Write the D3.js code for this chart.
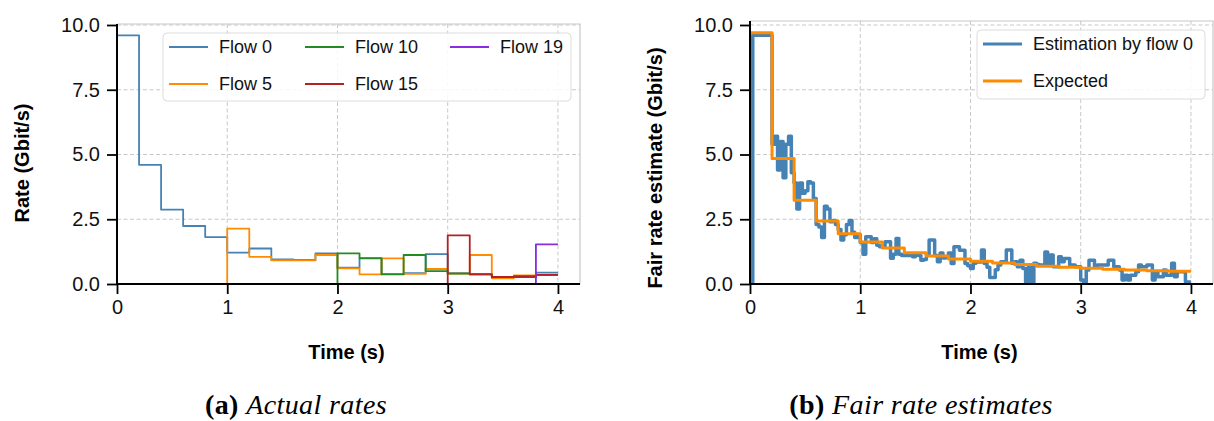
<!DOCTYPE html>
<html><head><meta charset="utf-8">
<script src="https://cdn.jsdelivr.net/npm/d3@7"></script>
<style>body{margin:0;background:#fff}svg{display:block}</style>
</head><body>
<svg id="c" width="1214" height="421"></svg>
<script>
// ---------- data ----------
const intervalSec = 0.2;          // flows join every 0.2 s
const estimateStepSec = 0.025;    // estimation sample step
const xTicks = [0, 1, 2, 3, 4];
const yTicks = [0, 2.5, 5, 7.5, 10];
const yTickLabels = ["0.0", "2.5", "5.0", "7.5", "10.0"];

const flowNames = ["Flow 0", "Flow 5", "Flow 10", "Flow 15", "Flow 19"];
const flowColors = ["#4682b4", "#ff8c00", "#228b22", "#b22222", "#8a2be2"];
const flow0 = [9.6, 4.6, 2.87, 2.24, 1.81, 1.21, 1.37, 0.95, 0.93, 1.18, 0.63, 1.0, 0.38, 0.42, 1.15, 0.42, 0.38, 0.27, 0.27, 0.44];
const flow5 = [0, 0, 0, 0, 0, 2.14, 1.05, 0.91, 0.91, 1.12, 0.6, 0.37, 0.99, 0.39, 0.58, 0.4, 1.12, 0.22, 0.33, 0.35];
const flow10 = [0, 0, 0, 0, 0, 0, 0, 0, 0, 0, 1.18, 0.99, 0.37, 1.12, 0.5, 0.4, 0.37, 0.27, 0.3, 0.35];
const flow15 = [0, 0, 0, 0, 0, 0, 0, 0, 0, 0, 0, 0, 0, 0, 0, 1.88, 0.37, 0.27, 0.28, 0.35];
const flow19 = [0, 0, 0, 0, 0, 0, 0, 0, 0, 0, 0, 0, 0, 0, 0, 0, 0, 0, 0, 1.53];

const estimateNames = ["Estimation by flow 0", "Expected"];
const estimateColors = ["#4682b4", "#ff8c00"];
const estimateFlow0 = [
  0, 9.6, 9.6, 9.6, 9.6, 9.6, 9.6, 9.6,
  5.4, 5.7, 4.4, 5.5, 4.1, 5.4, 5.7, 4.3,
  3.9, 2.9, 3.9, 3.5, 3.6, 3.95, 3.9, 3.3,
  2.3, 2.2, 1.8, 3.0, 2.9, 2.4, 2.45, 2.3,
  2.1, 1.7, 1.9, 2.3, 2.45, 2.0, 1.8, 1.9,
  1.6, 1.15, 1.82, 1.82, 1.6, 1.75, 1.5, 1.44,
  1.44, 1.63, 1.63, 0.99, 1.15, 1.76, 1.15, 1.1,
  1.1, 1.1, 1.1, 1.05, 1.15, 1.1, 0.92, 0.95,
  1.15, 1.7, 1.7, 1.1, 0.86, 1.2, 1.0, 1.05,
  1.2, 0.79, 1.44, 1.44, 1.3, 1.3, 0.79, 0.7,
  0.6, 0.8, 0.85, 0.85, 1.31, 0.79, 0.65, 0.25,
  0.25, 0.55, 0.73, 0.86, 0.86, 1.31, 1.31, 0.8,
  0.86, 0.67, 0.92, 0.6, 0.05, 0.67, 0.05, 0.8,
  0.75, 0.73, 0.73, 1.24, 0.73, 1.12, 0.67, 0.67,
  1.05, 0.86, 0.98, 0.98, 0.73, 0.73, 0.67, 0.67,
  0.15, 0.05, 0.54, 0.92, 0.92, 0.67, 0.73, 0.73,
  0.73, 0.73, 0.92, 0.92, 0.67, 0.67, 0.54, 0.15,
  0.34, 0.15, 0.34, 0.34, 0.47, 0.73, 0.67, 0.67,
  0.73, 0.73, 0.15, 0.47, 0.28, 0.28, 0.54, 0.34,
  0.34, 0.8, 0.28, 0.47, 0.47, 0.47, 0.08, 0.08
];
const expectedRate = [9.7, 4.85, 3.23, 2.43, 1.94, 1.62, 1.39, 1.21, 1.08, 0.97, 0.88, 0.81, 0.75, 0.69, 0.65, 0.61, 0.57, 0.54, 0.51, 0.49];

// ---------- drawing ----------
const svg = d3.select("#c");
const SANS = "'Liberation Sans', Arial, sans-serif";

function stepPoints(values, step) {
  const pts = values.map((v, i) => [i * step, v]);
  pts.push([values.length * step, values[values.length - 1]]);
  return pts;
}

function panel(cfg) {
  const x = d3.scaleLinear().domain([0, 4.2]).range([cfg.left, cfg.right]);
  const y = d3.scaleLinear().domain([0, 10]).range([cfg.bottom, cfg.y10]);
  const g = svg.append("g");
  const clipId = "clip" + cfg.id;
  svg.append("clipPath").attr("id", clipId).append("rect")
    .attr("x", cfg.left).attr("y", cfg.top).attr("width", cfg.right - cfg.left).attr("height", cfg.bottom - cfg.top);

  // grid
  const grid = g.append("g").attr("stroke", "#c8c8c8").attr("stroke-width", 1).attr("stroke-dasharray", "4,2.5");
  grid.selectAll(".gx").data(xTicks.slice(1)).join("line")
    .attr("x1", d => x(d)).attr("x2", d => x(d)).attr("y1", cfg.top).attr("y2", cfg.bottom);
  grid.selectAll(".gy").data(yTicks.slice(1)).join("line")
    .attr("y1", d => y(d)).attr("y2", d => y(d)).attr("x1", cfg.left).attr("x2", cfg.right);
  // top/right frame
  g.append("path").attr("d", `M${cfg.left},${cfg.top}H${cfg.right}V${cfg.bottom}`)
    .attr("fill", "none").attr("stroke", "#c8c8c8").attr("stroke-width", 1.2);

  // series
  const line = d3.line().x(d => x(d[0])).y(d => y(d[1])).curve(d3.curveStepAfter);
  const lines = g.append("g").attr("clip-path", `url(#${clipId})`);
  cfg.series.forEach(s => {
    lines.append("path").attr("d", line(stepPoints(s.values, s.step)))
      .attr("fill", "none").attr("stroke", s.color).attr("stroke-width", s.width)
      .attr("stroke-linejoin", "round");
  });

  // axes
  const xAxis = d3.axisBottom(x).tickValues(xTicks).tickSize(10).tickPadding(6).tickFormat(d3.format("d"));
  const ax = g.append("g").attr("transform", `translate(0,${cfg.bottom})`).call(xAxis);
  const yAxis = d3.axisLeft(y).tickValues(yTicks).tickSize(10).tickPadding(7).tickFormat((d, i) => yTickLabels[i]);
  const ay = g.append("g").attr("transform", `translate(${cfg.left},0)`).call(yAxis);
  [ax, ay].forEach(a => {
    a.select(".domain").remove();
    a.selectAll("line").attr("stroke", "#000").attr("stroke-width", 1.8);
    a.selectAll("text").attr("font-family", SANS).attr("font-size", 20).attr("fill", "#111");
  });
  // spines
  g.append("path").attr("d", `M${cfg.left},${cfg.top}V${cfg.bottom}H${cfg.right}`)
    .attr("fill", "none").attr("stroke", "#000").attr("stroke-width", 2);

  // labels
  g.append("text").attr("x", (cfg.left + cfg.right) / 2 - 2).attr("y", 359)
    .attr("text-anchor", "middle").attr("font-family", SANS).attr("font-weight", "bold").attr("font-size", 20)
    .text("Time (s)");
  g.append("text").attr("transform", `translate(${cfg.ylabX},${cfg.ylabY}) rotate(-90)`)
    .attr("text-anchor", "middle").attr("font-family", SANS).attr("font-weight", "bold").attr("font-size", 20)
    .text(cfg.ylabel);

  // legend
  const L = cfg.legend;
  const lg = g.append("g");
  lg.append("rect").attr("x", L.x).attr("y", L.y).attr("width", L.w).attr("height", L.h)
    .attr("rx", 4).attr("fill", "rgba(255,255,255,0.85)").attr("stroke", "#dcdcdc").attr("stroke-width", 1);
  L.items.forEach(it => {
    lg.append("line").attr("x1", it.x).attr("x2", it.x + 39).attr("y1", it.y).attr("y2", it.y)
      .attr("stroke", it.color).attr("stroke-width", L.lw);
    lg.append("text").attr("x", it.x + 50).attr("y", it.y).attr("dy", "0.35em")
      .attr("font-family", SANS).attr("font-size", 18).attr("fill", "#111").text(it.name);
  });

  // caption
  const cap = g.append("text").attr("x", cfg.capX).attr("y", 414).attr("text-anchor", "middle")
    .attr("font-family", "'Liberation Serif', 'Times New Roman', serif").attr("font-size", 28)
    .attr("letter-spacing", 0.4);
  cap.append("tspan").attr("font-weight", "bold").text(cfg.capA + " ");
  cap.append("tspan").attr("font-style", "italic").text(cfg.capB);
}

const leftSeries = [flow0, flow5, flow10, flow15, flow19].map((v, i) => ({values: v, step: intervalSec, color: flowColors[i], width: 1.8}));
const legCols = [169, 305, 450];
const legRows = [47, 84];
const leftOrder = [[0,0],[0,1],[1,0],[1,1],[2,0]];
panel({
  id: "a", left: 117, right: 580, top: 24, bottom: 284, y10: 25,
  series: leftSeries,
  ylabel: "Rate (Gbit/s)", ylabX: 29, ylabY: 163,
  legend: {x: 163, y: 33, w: 408, h: 68, lw: 1.8,
    items: flowNames.map((n, i) => ({name: n, color: flowColors[i], x: legCols[leftOrder[i][0]], y: legRows[leftOrder[i][1]]}))},
  capX: 296, capA: "(a)", capB: "Actual rates"
});

panel({
  id: "b", left: 750, right: 1213, top: 21, bottom: 284, y10: 25,
  series: [
    {values: estimateFlow0, step: estimateStepSec, color: estimateColors[0], width: 3.5},
    {values: expectedRate, step: intervalSec, color: estimateColors[1], width: 3}
  ],
  ylabel: "Fair rate estimate (Gbit/s)", ylabX: 662, ylabY: 168,
  legend: {x: 977, y: 30, w: 228, h: 69, lw: 3,
    items: estimateNames.map((n, i) => ({name: n, color: estimateColors[i], x: 983, y: [44, 81][i]}))},
  capX: 921, capA: "(b)", capB: "Fair rate estimates"
});
</script>
</body></html>
